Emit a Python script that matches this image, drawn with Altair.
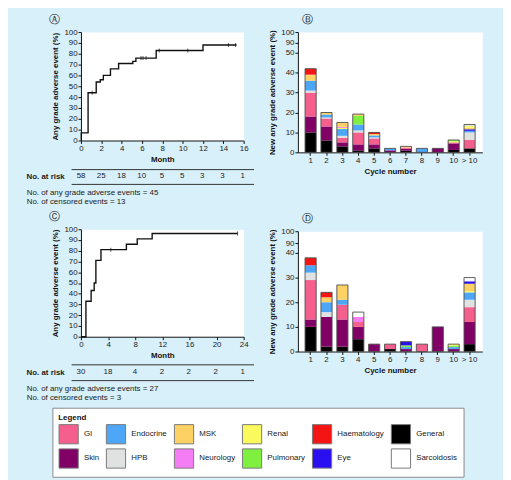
import altair as alt
import pandas as pd

FONT = "Liberation Sans"
BG = "#d8f0fa"

# ---------- Panel A: Kaplan-Meier (months) ----------
A_month = [0, 0.03, 0.7, 1.5, 1.9, 2.2, 2.9, 3.7, 5.1, 5.4, 7.4, 12.0, 15.3]
A_pct = [0, 7, 44, 54, 56, 60, 66, 71, 73, 76, 83, 88, 88]
A_cens_month = [1.1, 5.9, 6.1, 6.4, 7.7, 10.5, 14.5, 15.2]
A_cens_pct = [44, 76, 76, 76, 83, 83, 88, 88]
A_risk_month = [0, 2, 4, 6, 8, 10, 12, 14, 16]
A_risk_n = [58, 25, 18, 10, 5, 5, 3, 3, 1]
A_notes = ["No. of any grade adverse events = 45", "No. of censored events = 13"]

# ---------- Panel C: Kaplan-Meier (months) ----------
C_month = [0, 0.73, 1.5, 1.95, 2.2, 2.95, 6.7, 8.3, 10.5, 23.1]
C_pct = [0, 33, 43, 50, 71, 81, 86, 91, 96, 96]
C_cens_month = [4.4, 23.1]
C_cens_pct = [81, 96]
C_risk_month = [0, 4, 8, 12, 16, 20, 24]
C_risk_n = [30, 18, 4, 2, 2, 2, 1]
C_notes = ["No. of any grade adverse events = 27", "No. of censored events = 3"]

# ---------- Stacked bars ----------
cycles = ["1", "2", "3", "4", "5", "6", "7", "8", "9", "10", "> 10"]
categories = ["GI", "Endocrine", "MSK", "Renal", "Haematology", "General",
              "Skin", "HPB", "Neurology", "Pulmonary", "Eye", "Sarcoidosis"]
cat_colors = ["#f55f8e", "#4ea6f7", "#fdd163", "#fafa5e", "#f41414", "#000000",
              "#800066", "#e0e2e2", "#f47cf4", "#80f040", "#2a10f0", "#ffffff"]

# Panel B segments, bottom to top within each cycle
B_cycle = (["1"] * 7 + ["2"] * 6 + ["3"] * 8 + ["4"] * 7 + ["5"] * 7 + ["6"] * 2
           + ["7"] * 4 + ["8"] + ["9"] + ["10"] * 5 + ["> 10"] * 8)
B_cat = (["General", "Skin", "GI", "HPB", "Endocrine", "MSK", "Haematology"]
         + ["General", "Skin", "GI", "HPB", "Endocrine", "MSK"]
         + ["General", "Skin", "GI", "HPB", "Endocrine", "Renal", "Neurology", "MSK"]
         + ["General", "Skin", "GI", "HPB", "Endocrine", "Pulmonary", "MSK"]
         + ["General", "Skin", "GI", "HPB", "Endocrine", "MSK", "Haematology"]
         + ["Skin", "Endocrine"]
         + ["General", "Skin", "GI", "MSK"]
         + ["Endocrine"]
         + ["Skin"]
         + ["General", "Skin", "GI", "Renal", "Pulmonary"]
         + ["General", "GI", "HPB", "Endocrine", "Eye", "MSK", "Renal", "HPB"])
B_val = ([10, 8, 12, 1, 5, 3, 3]
         + [6, 7, 4, 0.5, 1.5, 1]
         + [3, 2, 2.3, 1, 3.4, 0.6, 0.5, 2.2]
         + [1, 3, 6, 1, 3, 4.3, 0.9]
         + [2, 2, 3, 0.5, 1, 0.7, 0.8]
         + [1, 1]
         + [0.8, 1, 0.6, 0.6]
         + [2]
         + [2]
         + [1.2, 3.3, 0.5, 0.5, 0.7]
         + [2, 4.2, 3.8, 0.8, 0.8, 0.8, 0.8, 0.8])

# Panel D segments, bottom to top within each cycle
D_cycle = (["1"] * 6 + ["2"] * 6 + ["3"] * 5 + ["4"] * 5 + ["5"] + ["6"] * 2
           + ["7"] * 4 + ["8"] + ["9"] + ["10"] * 4 + ["> 10"] * 9)
D_cat = (["General", "Skin", "GI", "HPB", "Endocrine", "Haematology"]
         + ["General", "Skin", "HPB", "Endocrine", "MSK", "Haematology"]
         + ["General", "Skin", "GI", "Endocrine", "MSK"]
         + ["General", "Skin", "GI", "Neurology", "Sarcoidosis"]
         + ["Skin"]
         + ["General", "GI"]
         + ["Skin", "Endocrine", "Pulmonary", "Eye"]
         + ["GI"]
         + ["Skin"]
         + ["Skin", "Endocrine", "Pulmonary", "Renal"]
         + ["General", "Skin", "GI", "HPB", "Endocrine", "Renal", "MSK", "Eye", "Sarcoidosis"])
D_val = ([10, 3, 16, 3, 3, 3]
         + [2, 12, 2, 4, 2, 2]
         + [2, 11, 6, 2, 6]
         + [5, 5, 2, 2, 2]
         + [3]
         + [1, 2]
         + [1, 0.8, 0.7, 1.5]
         + [3]
         + [10]
         + [1, 0.8, 0.6, 0.6]
         + [3, 9, 6, 3, 3, 0.5, 3, 1, 1.5])

LEGEND = alt.Legend(
    title="Legend", orient="none", legendX=-19, legendY=381, columns=6,
    direction="horizontal", symbolType="square", symbolSize=380,
    symbolStrokeColor="#7a7a7a", symbolStrokeWidth=1, symbolOpacity=1,
    labelFont=FONT, labelFontSize=8, labelColor="#1a1a1a", labelOffset=5,
    titleFont=FONT, titleFontSize=8, titleFontWeight="bold", titleColor="#111",
    titlePadding=2, strokeColor="#8a8a8a", fillColor="white", padding=6,
    rowPadding=0, columnPadding=4,
)


def panel_title(letter, dx):
    return alt.TitleParams(letter, anchor="start", frame="group", dx=dx, offset=3,
                           font="DejaVu Sans", fontSize=11, fontWeight="normal",
                           color="#222")


def km_panel(month, pct, cm, cp, xmax, xstep, letter, w, h):
    df = pd.DataFrame({"month": month, "pct": pct})
    dc = pd.DataFrame({"month": cm, "pct": cp})
    xsc = alt.Scale(domain=[0, xmax], nice=False)
    ysc = alt.Scale(domain=[0, 100], nice=False)
    xax = alt.Axis(values=list(range(0, xmax + 1, xstep)), title="Month",
                   titlePadding=3, labelOverlap=False, labelFlush=False)
    yax = alt.Axis(values=list(range(0, 101, 10)), title="Any grade adverse event (%)",
                   titlePadding=4, labelOverlap=False, labelFlush=False)
    line = alt.Chart(df).mark_line(interpolate="step-after", color="#111",
                                   strokeWidth=1.4).encode(
        x=alt.X("month:Q", scale=xsc, axis=xax),
        y=alt.Y("pct:Q", scale=ysc, axis=yax),
    )
    cens = alt.Chart(dc).mark_tick(orient="vertical", color="#111", size=4,
                                   thickness=1).encode(
        x=alt.X("month:Q", axis=xax), y=alt.Y("pct:Q", axis=yax))
    return alt.layer(line, cens).properties(
        width=w, height=h, title=panel_title(letter, -32),
        view=alt.ViewBackground(fill="white", stroke="transparent"))


def risk_panel(months, ns, dom, notes, w, h):
    df = pd.DataFrame({"month": months, "n": [str(n) for n in ns],
                       "row": ["No. at risk"] * len(ns)})
    return alt.Chart(df).mark_text(font=FONT, fontSize=8, color="#222").encode(
        x=alt.X("month:Q", scale=alt.Scale(domain=dom, nice=False, zero=False), axis=None),
        y=alt.Y("row:N", scale=alt.Scale(paddingInner=0, paddingOuter=0),
                axis=alt.Axis(title=None, domain=False, ticks=False, tickSize=0,
                              labelPadding=7, labelFontWeight="bold", labelFontSize=8,
                              grid=True, tickBand="extent", gridColor="#333",
                              gridWidth=1)),
        text="n:N",
    ).properties(
        width=w, height=h,
        title=alt.TitleParams(notes, orient="bottom", anchor="start", frame="group",
                              dx=-45, offset=5, baseline="top", font=FONT,
                              fontSize=8, fontWeight="normal", color="#222",
                              lineHeight=9),
        view=alt.ViewBackground(fill="transparent", stroke="transparent"))


def bar_panel(cyc, cat, val, ydom, yrng, yvals, letter, w, h):
    df = pd.DataFrame({"cycle": cyc, "cat": cat, "value": val,
                       "ord": list(range(len(val)))})
    tot = df.groupby("cycle", sort=False)["value"].sum().reset_index()
    xsc = alt.Scale(domain=cycles, paddingInner=0.3, paddingOuter=0.45)
    ysc = alt.Scale(domain=ydom, range=yrng, nice=False, zero=False)
    xax = alt.Axis(title="Cycle number", labelAngle=0, titlePadding=3,
                   labelOverlap=False)
    yax = alt.Axis(values=yvals, title="New any grade adverse event (%)", titlePadding=4,
                   labelOverlap=False, labelFlush=False)
    seg = alt.Chart(df).mark_bar(strokeWidth=0).encode(
        x=alt.X("cycle:N", scale=xsc, axis=xax, sort=cycles),
        y=alt.Y("value:Q", stack="zero", scale=ysc, axis=yax),
        color=alt.Color("cat:N", scale=alt.Scale(domain=categories, range=cat_colors),
                        legend=LEGEND),
        order=alt.Order("ord:Q"),
    )
    outline = alt.Chart(tot).mark_bar(fill="transparent", stroke="#4d4d4d",
                                      strokeWidth=0.9).encode(
        x=alt.X("cycle:N", sort=cycles, axis=xax), y=alt.Y("value:Q", axis=yax))
    return alt.layer(seg, outline).properties(
        width=w, height=h, title=panel_title(letter, 4),
        view=alt.ViewBackground(fill="white", stroke="transparent"))


kmA = km_panel(A_month, A_pct, A_cens_month, A_cens_pct, 16, 2, "Ⓐ", 165, 110)
riskA = risk_panel(A_risk_month, A_risk_n, [-0.98, 17.07], A_notes, 185, 15)
kmC = km_panel(C_month, C_pct, C_cens_month, C_cens_pct, 24, 4, "Ⓒ", 165, 109)
riskC = risk_panel(C_risk_month, C_risk_n, [-1.46, 25.6], C_notes, 185, 16)
barB = bar_panel(B_cycle, B_cat, B_val, [0, 50, 90, 100], [122, 21, 11, 0],
                 [0, 10, 20, 30, 40, 50, 90, 100], "Ⓑ", 187, 122)
barD = bar_panel(D_cycle, D_cat, D_val, [0, 40, 90, 100], [122, 22, 12, 0],
                 [0, 10, 20, 30, 40, 90, 100], "Ⓓ", 187, 122)

blockA = alt.vconcat(kmA, riskA, spacing=29, bounds="flush", center=True)
blockC = alt.vconcat(kmC, riskC, spacing=28, bounds="flush", center=True)
left_col = alt.vconcat(blockA, blockC, spacing=4)
right_col = alt.vconcat(barB, barD, spacing=80, bounds="flush")

chart = alt.hconcat(left_col, right_col, spacing=14).resolve_scale(
    color="shared"
).properties(
    background=BG, padding={"left": 17, "top": 2, "right": 20, "bottom": 6}
).configure(font=FONT).configure_axis(
    labelFont=FONT, titleFont=FONT, labelFontSize=8, titleFontSize=8,
    titleFontWeight="bold", labelColor="#1a1a1a", titleColor="#111",
    domainColor="#111", tickColor="#111", tickSize=3, labelPadding=1, grid=False,
    labelOverlap=False,
).configure_view(stroke="transparent")

chart.save("out.html", embed_options={"renderer": "svg", "actions": False})
